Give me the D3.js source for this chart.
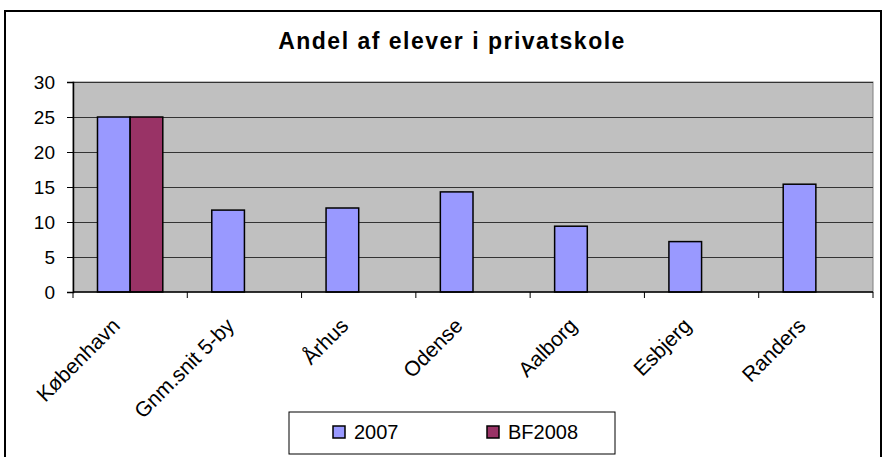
<!DOCTYPE html>
<html>
<head>
<meta charset="utf-8">
<script src="https://cdnjs.cloudflare.com/ajax/libs/d3/7.8.5/d3.min.js"></script>
<style>
  body { margin: 0; background: #fff; }
  text { font-family: "Liberation Sans", Arial, sans-serif; }
</style>
</head>
<body>
<div id="chart"></div>
<script>
const categories = ['København', 'Gnm.snit 5-by', 'Århus', 'Odense', 'Aalborg', 'Esbjerg', 'Randers'];
const seriesNames = ['2007', 'BF2008'];
const values2007 = [25, 11.7, 12.0, 14.3, 9.4, 7.2, 15.4];
const valuesBF2008 = [25, null, null, null, null, null, null];
const yTicks = [0, 5, 10, 15, 20, 25, 30];
const colors = ['#9999FF', '#993366'];

const W = 886, H = 457;
const margin = {top: 82, right: 13, bottom: 165, left: 73};
const width = W - margin.left - margin.right,
      height = H - margin.top - margin.bottom;

const svg = d3.select('#chart').append('svg')
    .attr('width', W)
    .attr('height', H);

// outer frame
svg.append('rect')
    .attr('x', 5).attr('y', 11)
    .attr('width', 876).attr('height', 470)
    .attr('fill', 'none').attr('stroke', '#000').attr('stroke-width', 2);

svg.append('text')
    .attr('x', 452).attr('y', 49)
    .attr('text-anchor', 'middle')
    .attr('font-size', '23px')
    .attr('font-weight', 'bold')
    .attr('letter-spacing', '1.5px')
    .text('Andel af elever i privatskole');

const g = svg.append('g')
    .attr('transform', 'translate(' + margin.left + ',' + margin.top + ')');

const x0 = d3.scaleBand().domain(categories).range([0, width]);
const y = d3.scaleLinear().domain([0, 30]).range([height, 0]);

g.append('rect')
    .attr('width', width).attr('height', height)
    .attr('fill', '#C0C0C0')
    .attr('stroke', '#808080').attr('stroke-width', 1);

g.append('g')
    .selectAll('line')
    .data(yTicks.filter(d => d > 0))
    .enter().append('line')
    .attr('x1', 0).attr('x2', width)
    .attr('y1', d => y(d) + 0.5).attr('y2', d => y(d) + 0.5)
    .attr('stroke', '#333').attr('stroke-width', 1);

// gap width 150%: two bars take 2 of 3.5 parts of a category
const seriesData = [values2007, valuesBF2008];
const barW = x0.bandwidth() / 3.5;
const slice = g.selectAll('.slice')
    .data(categories)
    .enter().append('g')
    .attr('class', 'slice')
    .attr('transform', d => 'translate(' + x0(d) + ',0)');

slice.selectAll('rect')
    .data((d, i) => seriesNames.map((s, k) => ({s: s, k: k, v: seriesData[k][i]})).filter(d => d.v != null))
    .enter().append('rect')
    .attr('x', d => x0.bandwidth() / 2 - barW + d.k * barW)
    .attr('width', barW)
    .attr('y', d => y(d.v))
    .attr('height', d => height - y(d.v))
    .attr('fill', d => colors[d.k])
    .attr('stroke', '#000').attr('stroke-width', 1.5);

const yAxis = g.append('g')
    .call(d3.axisLeft(y).tickValues(yTicks).tickSize(6).tickPadding(12));
yAxis.select('.domain').attr('stroke', '#000').attr('stroke-width', 1.5);
yAxis.selectAll('text').attr('font-size', '19px').attr('fill', '#000')
    .style('font-family', '"Liberation Sans", Arial, sans-serif');

const xAxis = g.append('g')
    .attr('transform', 'translate(0,' + height + ')');
xAxis.append('line')
    .attr('x1', 0).attr('x2', width)
    .attr('stroke', '#000').attr('stroke-width', 1.5);
xAxis.selectAll('.tk')
    .data(d3.range(categories.length + 1))
    .enter().append('line')
    .attr('x1', i => i * x0.step()).attr('x2', i => i * x0.step())
    .attr('y1', 0).attr('y2', 6)
    .attr('stroke', '#000');
xAxis.selectAll('.lbl')
    .data(categories)
    .enter().append('text')
    .attr('text-anchor', 'end')
    .attr('font-size', '21px')
    .attr('transform', d => 'translate(' + (x0(d) + x0.bandwidth() / 2 - 9) + ',35) rotate(-45)')
    .text(d => d);

// legend
const legend = svg.append('g').attr('transform', 'translate(289,412)');
legend.append('rect')
    .attr('width', 326).attr('height', 42)
    .attr('fill', '#fff').attr('stroke', '#000').attr('stroke-width', 1);
const li = legend.selectAll('.li')
    .data(seriesNames)
    .enter().append('g')
    .attr('transform', (d, i) => 'translate(' + (44 + i * 154) + ',14)');
li.append('rect')
    .attr('width', 12).attr('height', 12)
    .attr('fill', (d, i) => colors[i])
    .attr('stroke', '#000').attr('stroke-width', 1.5);
li.append('text')
    .attr('x', 21).attr('y', 13)
    .attr('font-size', '20px')
    .text(d => d);
</script>
</body>
</html>
